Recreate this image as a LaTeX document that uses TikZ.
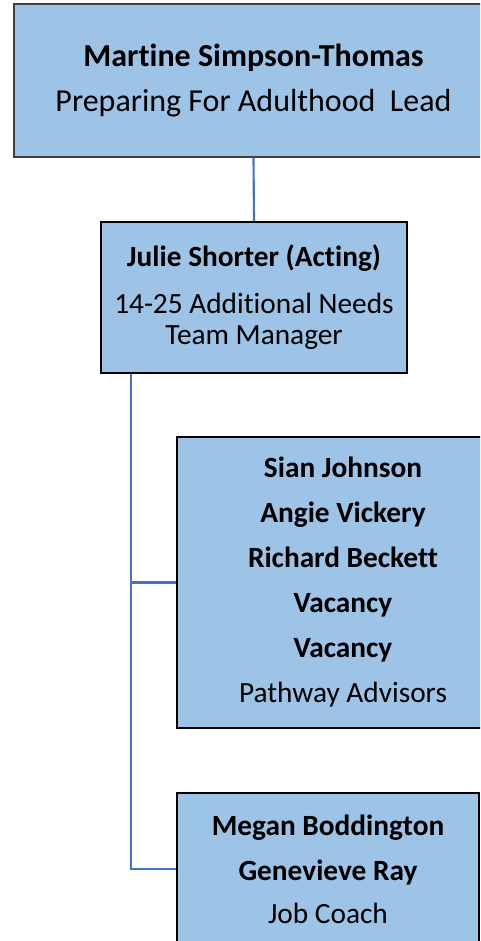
\documentclass[tikz,border=0pt]{standalone}
\usepackage{fontspec}
\setmainfont{Carlito}[Ligatures=NoCommon]
\definecolor{boxfill}{RGB}{157,195,230}
\definecolor{linkblue}{RGB}{68,114,196}
\newcommand{\nolig}{\kern0pt }
\begin{document}
\begin{tikzpicture}[x=0.75pt,y=-0.75pt,
  orgbox/.style={rectangle,fill=boxfill,draw=black,line width=1.5pt,inner sep=0pt,align=center,
     font=\fontsize{22}{23.25}\selectfont},
  topbox/.style={orgbox,draw=black!75,line width=0.9pt,font=\fontsize{24}{26}\selectfont},
  link/.style={draw=linkblue,line width=1.6pt}]
\useasboundingbox (0,0) rectangle (480,941);
\clip (0,0) rectangle (480,941);
\fill[white] (0,0) rectangle (480,941);
\node[topbox,minimum width=359.25pt,minimum height=114.75pt] (top) at (253.5,80.5)
  {\textbf{Mart\nolig ine Simpson-Thomas}\\[7.75pt]Preparing For Adulthood\ \ Lead};
\node[orgbox,minimum width=229.5pt,minimum height=113.25pt] (julie) at (254,297.5)
  {\textbf{Julie Shorter (Act\nolig ing)}\\[12pt]14-25 Additional Needs\\Team Manager};
\node[orgbox,minimum width=249pt,minimum height=218.25pt] (path) at (343,582.5)
  {\textbf{Sian Johnson}\\[10.5pt]\textbf{Angie Vickery}\\[10.5pt]\textbf{Richard Beckett}\\[10.5pt]\textbf{Vacancy}\\[10.5pt]\textbf{Vacancy}\\[10.5pt]Pathway Advisors};
\node[orgbox,minimum width=226.5pt,minimum height=114pt] (job) at (328,869)
  {\textbf{Megan Boddington}\\[10.5pt]\textbf{Genevieve Ray}\\[9pt]Job Coach};
\draw[link] (top.south) -- (julie.north);
\coordinate (trunk) at ([xshift=23.25pt]julie.south west);
\draw[link] (trunk) |- (path.west);
\draw[link] (trunk) |- (job.west);
\end{tikzpicture}
\end{document}
